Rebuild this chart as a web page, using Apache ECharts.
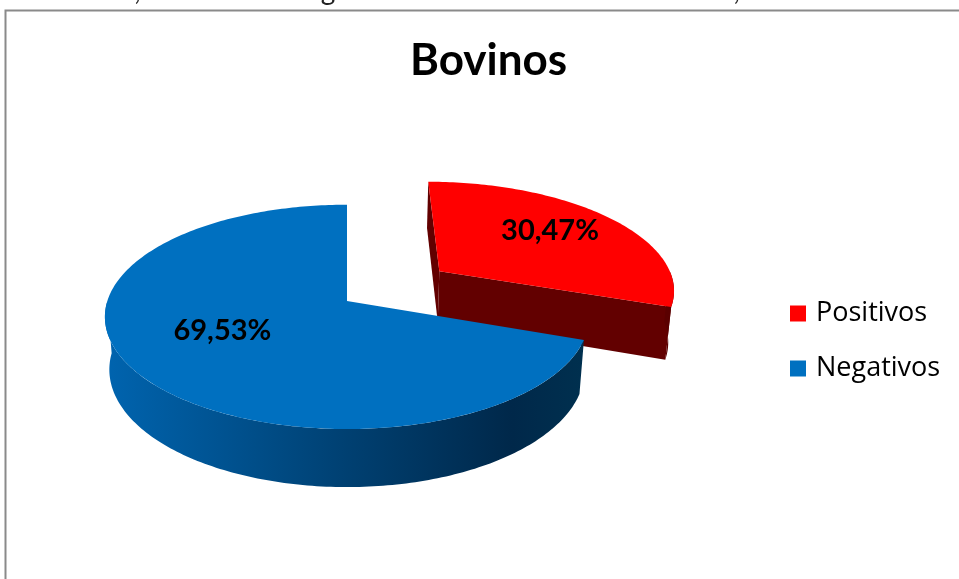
<!DOCTYPE html>
<html>
<head>
<meta charset="utf-8">
<script src="https://cdn.jsdelivr.net/npm/echarts@6/dist/echarts.min.js"></script>
<style>
  html, body { margin: 0; padding: 0; background: #ffffff; }
  #chart { width: 959px; height: 579px; }
</style>
</head>
<body>
<div id="chart"></div>
<script>
// Results of the diagnostic test in cattle
const categories = ['Positivos', 'Negativos'];
const values = [30.47, 69.53];
const valueLabels = ['30,47%', '69,53%'];

const TOTAL = values.reduce((a, b) => a + b, 0);

// Camera for the tilted 3D disc (unit radius, y is up, z points away)
const VIEW = { cx: 347, cy: 301, f: 1505, D: 6.28, tilt: 27.3 * Math.PI / 180, h: 0.25 };

function project(x, y, z) {
  const s = Math.sin(VIEW.tilt), c = Math.cos(VIEW.tilt);
  const depth = VIEW.D - s * y + c * z;
  const up = c * y + s * z;
  return [VIEW.cx + VIEW.f * x / depth, VIEW.cy - VIEW.f * up / depth];
}

// Slices run clockwise from 12 o'clock
function sliceAngles(i) {
  let before = 0;
  for (let k = 0; k < i; k++) before += values[k];
  const a0 = 90 - before / TOTAL * 360;
  const a1 = a0 - values[i] / TOTAL * 360;
  return [a1 * Math.PI / 180, a0 * Math.PI / 180];
}

const SLICE_STYLE = [
  { top: '#FF0000', face: '#620000', wall: '#5a0000', explode: 0.49, labelR: 0.66, labelShift: [-3, -4] },
  { top: '#0070C0', face: '#00447c',
    wall: new echarts.graphic.LinearGradient(0, 0, 1, 0, [
      { offset: 0, color: '#0064AF' },
      { offset: 0.45, color: '#004478' },
      { offset: 0.85, color: '#00284A' },
      { offset: 1, color: '#00304F' }
    ]),
    explode: 0, labelR: 0.6, labelShift: [-1, -10] }
];

function renderSlice(i) {
  const [a1, a0] = sliceAngles(i);
  const st = SLICE_STYLE[i];
  const mid = (a0 + a1) / 2;
  const ox = st.explode * Math.cos(mid), oz = st.explode * Math.sin(mid);
  const H = -VIEW.h;
  const P = (ang, r, y) => project(ox + r * Math.cos(ang), y, oz + r * Math.sin(ang));
  const arc = (from, to, y) => {
    const n = Math.max(2, Math.ceil(Math.abs(to - from) / (Math.PI / 180)));
    const pts = [];
    for (let k = 0; k <= n; k++) pts.push(P(from + (to - from) * k / n, 1, y));
    return pts;
  };
  const children = [];
  const camZ = -VIEW.D * Math.cos(VIEW.tilt);

  // flat cut faces, drawn only when they turn towards the camera
  [[a0, a0 + Math.PI / 2], [a1, a1 - Math.PI / 2]].forEach(([ang, nrm]) => {
    const dot = Math.cos(nrm) * (0 - ox) + Math.sin(nrm) * (camZ - oz);
    if (dot > 1e-6) {
      children.push({
        type: 'polygon',
        shape: { points: [P(0, 0, 0), P(ang, 1, 0), P(ang, 1, H), P(0, 0, H)] },
        style: { fill: st.face }
      });
    }
  });

  // curved outer wall on the front half
  for (let k = -1; k <= 1; k++) {
    const lo = Math.max(a1, -Math.PI + 2 * Math.PI * k);
    const hi = Math.min(a0, 2 * Math.PI * k);
    if (lo < hi) {
      children.push({
        type: 'polygon',
        shape: { points: arc(lo, hi, 0).concat(arc(hi, lo, H)) },
        style: { fill: st.wall }
      });
    }
  }

  // top face
  children.push({
    type: 'polygon',
    shape: { points: [P(0, 0, 0)].concat(arc(a1, a0, 0)) },
    style: { fill: st.top }
  });

  // value label
  const lp = P(mid, st.labelR, 0);
  children.push({
    type: 'text',
    x: lp[0] + st.labelShift[0],
    y: lp[1] + st.labelShift[1],
    style: {
      text: valueLabels[i],
      fill: '#000000',
      font: 'bold 29px Lato, "Open Sans", sans-serif',
      align: 'center',
      verticalAlign: 'middle'
    }
  });

  return { type: 'group', children };
}

const chart = echarts.init(document.getElementById('chart'), null, { renderer: 'canvas' });

chart.setOption({
  animation: false,
  backgroundColor: '#ffffff',
  title: {
    text: 'Bovinos',
    left: 410,
    top: 39,
    padding: 0,
    textStyle: { fontFamily: 'Lato, "Open Sans", sans-serif', fontSize: 44, fontWeight: 'bold', color: '#000000' }
  },
  legend: {
    orient: 'vertical',
    left: 790,
    top: 300,
    padding: 0,
    itemGap: 28,
    itemWidth: 16,
    itemHeight: 16,
    icon: 'rect',
    data: categories,
    textStyle: { fontFamily: '"Open Sans", Lato, sans-serif', fontSize: 27, color: '#000000', padding: [0, 0, 0, 5] }
  },
  graphic: [
    {
      type: 'rect',
      shape: { x: 5.5, y: 10.5, width: 1000, height: 700 },
      style: { fill: 'none', stroke: '#8a8a8a', lineWidth: 2 },
      silent: true
    },
    {
      type: 'text',
      x: 22,
      y: 5,
      style: {
        text: 'Gráfico 1, Control de diagnóstico de brucelosis en bovinos, 2010',
        fill: '#222222',
        font: '28px Lato, sans-serif',
        verticalAlign: 'bottom'
      },
      silent: true
    }
  ],
  series: categories.map((name, i) => ({
    type: 'custom',
    name: name,
    coordinateSystem: 'none',
    z: i + 1,
    itemStyle: { color: SLICE_STYLE[i].top },
    data: [[values[i]]],
    renderItem: () => renderSlice(i)
  }))
});
</script>
</body>
</html>
